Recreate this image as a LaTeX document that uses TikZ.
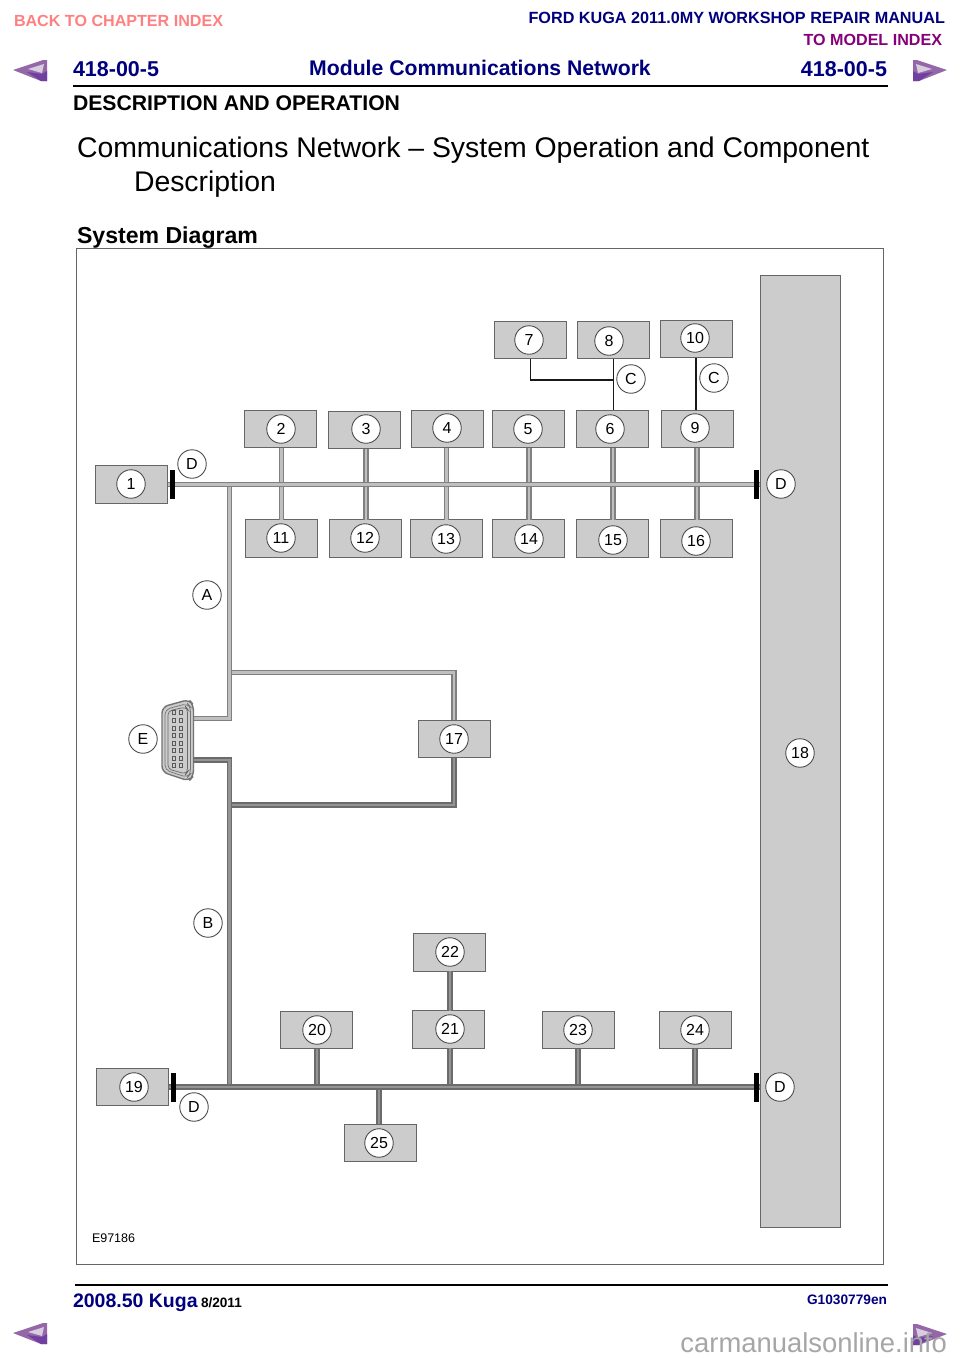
\documentclass[tikz,border=0pt]{standalone}
\usepackage{fontspec}
\setmainfont{Liberation Sans}
\definecolor{navyt}{HTML}{00007F}
\definecolor{boxg}{HTML}{CCCCCC}
\definecolor{edgeg}{HTML}{666666}
\definecolor{purp}{HTML}{9468A8}
\definecolor{purpd}{HTML}{7040A0}
\definecolor{purpl}{HTML}{D8CCE0}
\newcommand{\fs}[1]{\fontsize{#1}{#1}\selectfont}
\tikzset{
  txt/.style={inner sep=0pt,outer sep=0pt,anchor=base west},
  txtr/.style={inner sep=0pt,outer sep=0pt,anchor=base east},
  modbox/.style={draw=edgeg,fill=boxg,line width=0.9pt,minimum width=72.5pt,minimum height=37.5pt,inner sep=0pt,outer sep=0pt},
  tag/.style={circle,draw=black!70,fill=white,line width=0.9pt,minimum size=28.5pt,inner sep=0pt,font=\fs{16}},
  busl/.style={draw=black!50,line width=5.5pt,line join=miter,postaction={draw=black!25,line width=2.6pt}},
  busd/.style={draw=black!58,line width=5.5pt,line join=miter,postaction={draw=black!42,line width=2.4pt}},
  sig/.style={draw=black!90,line width=1.6pt},
  term/.style={draw=black,line width=5pt},
  pin/.style={draw=black!65,line width=0.6pt,fill=boxg},
}
\newcommand{\navarrow}[3]{%
  \fill[purp] (#1,#2) -- ({#1+#3*30},{#2-10}) -- ({#1+#3*34},{#2-10}) -- ({#1+#3*34},{#2+11}) -- ({#1+#3*28},{#2+11}) -- cycle;
  \fill[purpd] ({#1+#3*14},{#2+2}) -- ({#1+#3*29},{#2+4}) -- ({#1+#3*34},{#2+1}) -- ({#1+#3*34},{#2+11}) -- ({#1+#3*28},{#2+11}) -- cycle;
  \fill[purpl] ({#1+#3*15},{#2-1}) -- ({#1+#3*31},{#2-6}) -- ({#1+#3*29},{#2+3}) -- cycle;}
\begin{document}
\begin{tikzpicture}[x=1pt,y=-1pt]
\useasboundingbox (0,0) rectangle (960,1358);
\fill[white] (0,0) rectangle (960,1358);
% header
\node[txt,text=red!50,font=\bfseries\fs{16.1}] (back) at (14,26) {BACK TO CHAPTER INDEX};
\node[txtr,text=navyt,font=\bfseries\fs{16.2}] (ford) at (945,23) {FORD KUGA 2011.0MY WORKSHOP REPAIR MANUAL};
\node[txtr,text=purple!70!blue,font=\bfseries\fs{16.1}] (model) at (942,45) {TO MODEL INDEX};
\node[txt,text=navyt,font=\bfseries\fs{21.5}] (pl) at (73,76) {418-00-5};
\node[anchor=base,inner sep=0pt,text=navyt,font=\bfseries\fs{21.2}] (mod) at (480,75) {Module Communications Network};
\node[txtr,text=navyt,font=\bfseries\fs{21.5}] (pr) at (887,76) {418-00-5};
\coordinate (rla) at (73,85.5); \coordinate (rlb) at (888,85.5);
\draw[line width=2pt] (rla) -- (rlb);
\node[txt,font=\bfseries\fs{21.2}] (desc) at (73,110) {DESCRIPTION AND OPERATION};
\node[txt,font=\fs{28.4}] (t1) at (77,157) {Communications Network – System Operation and Component};
\node[txt,font=\fs{28.4}] (t2) at (134,191) {Description};
\node[txt,font=\bfseries\fs{23.1}] (sd) at (77,243) {System Diagram};
\navarrow{13}{70}{1}
\navarrow{947}{70}{-1}
% frame
\draw[draw=edgeg,line width=1pt] (76.5,248.5) rectangle (883.5,1264);
% big module 18
\node[modbox,minimum width=80.5pt,minimum height=952.5pt] (b18) at (800.25,751.5) {};
% modules
\foreach \n/\x/\y in {1/131.5/484.5,2/280.5/429,3/364.5/430,4/447.5/429,5/528.5/429,6/612.5/429,
  7/530.5/340,8/613.5/340,9/697.5/429,10/696.5/339,11/281.5/538.5,12/365.5/538.5,13/446.5/538.5,
  14/528.5/538.5,15/612.5/538.5,16/696.5/538.5,17/454.5/739,19/132.5/1087,20/316.5/1030,
  21/448.5/1029.5,22/449.5/952.5,23/578.5/1030,24/695.5/1030,25/380.5/1143}
  {\node[modbox] (b\n) at (\x,\y) {};}
% bus tap positions
\coordinate (u2) at (281.5,484.5); \coordinate (u3) at (366,484.5); \coordinate (u4) at (446.5,484.5);
\coordinate (u5) at (529,484.5); \coordinate (u6) at (613,484.5); \coordinate (u9) at (697,484.5);
\coordinate (uA) at (229.5,484.5); \coordinate (uAa) at (229.5,718.5); \coordinate (conA) at (192,718.5);
\coordinate (uAb) at (229.5,672.5);
\coordinate (lB) at (229.5,1087); \coordinate (lBa) at (229.5,760); \coordinate (conB) at (192,760);
\coordinate (lBb) at (229.5,805); \coordinate (l17) at (454,805); \coordinate (ua17) at (454,672.5);
\coordinate (l20) at (317,1087); \coordinate (l21) at (450,1087); \coordinate (l23) at (578,1087);
\coordinate (l24) at (695,1087); \coordinate (l25) at (379,1087);
% wires, upper network
\foreach \a/\b/\c in {u2/b2/b11,u3/b3/b12,u4/b4/b13,u5/b5/b14,u6/b6/b15,u9/b9/b16}
  {\draw[busl] (\a |- \b.south) -- (\a |- \c.north);}
\draw[busl] (uAb) -- (ua17) -- (ua17 |- b17.north);
\draw[busl] (uA) -- (uAa) -- (conA);
\draw[busl] (b1.east) -- (b1.east -| b18.west);
% wires, lower network
\draw[busd] (lBb) -- (l17) -- (l17 |- b17.south);
\draw[busd] (conB) -- (lBa) -- (lB);
\foreach \a/\b in {l20/b20,l21/b21,l23/b23,l24/b24}
  {\draw[busd] (\a) -- (\a |- \b.south);}
\draw[busd] (l21 |- b22.south) -- (l21 |- b21.north);
\draw[busd] (l25) -- (l25 |- b25.north);
\draw[busd] (b19.east) -- (b19.east -| b18.west);
% signal links
\coordinate (s7) at (530.5,380); \coordinate (s8) at (613.5,380); \coordinate (s10) at (696,380);
\draw[sig] (s7 |- b7.south) -- (s7) -- (s8);
\draw[sig] (s8 |- b8.south) -- (s8 |- b6.north);
\draw[sig] (s10 |- b10.south) -- (s10 |- b9.north);
% terminators
\coordinate (ta) at (172.5,484.5); \coordinate (tb) at (756,484.5);
\coordinate (tc) at (173.5,1087); \coordinate (td) at (756,1087);
\foreach \t in {ta,tb,tc,td}{\draw[term] ([yshift=-14.5pt]\t) -- ([yshift=14.5pt]\t);}
% connector E
\draw[draw=black!55,fill=boxg,line width=1.4pt,rounded corners=6pt]
  (162,707) -- (189,699.5) -- (193.5,705) -- (193.5,776) -- (189,781) -- (162,772) -- cycle;
\draw[draw=black!55,line width=0.7pt,rounded corners=5pt]
  (165,709.5) -- (187.5,703.5) -- (190.5,707) -- (190.5,774) -- (187.5,777.5) -- (165,770) -- cycle;
\draw[draw=black!60,line width=0.7pt,rounded corners=4pt]
  (168,711) -- (186,707) -- (187.5,709) -- (187.5,772) -- (186,774) -- (168,769) -- cycle;
\foreach \y in {712.7,720.3,728,735.5,743,750.7,758,765.3}
  {\draw[pin] (172.5,\y-2) rectangle (175.5,\y+2);
   \draw[pin] (179.2,\y-2) rectangle (182.2,\y+2);}
% number tags
\foreach \n/\x/\y in {1/131/484,2/281/429,3/366/429,4/447/428,5/528/429,6/610/429,7/529/340,8/609/341,
  9/695/428,10/695/338,11/281/538,12/365/538,13/446/539,14/529/539,15/613/540,16/696/541,17/454/739,
  18/800/753,19/134/1087,20/317/1030,21/450/1029,22/450/952,23/578/1030,24/695/1030,25/379/1143}
  {\node[tag] (n\n) at (\x,\y) {\n};}
% letter tags
\foreach \i/\l/\x/\y in {a/D/192/464,b/D/781/484,c/A/207/595,d/E/143/739,e/B/208/923,f/D/194/1107,
  g/D/780/1087,h/C/631/379,i/C/714/378}
  {\node[tag] (l\i) at (\x,\y) {\l};}
\node[txt,font=\fs{12.5}] (eref) at (92,1242) {E97186};
% footer
\coordinate (fla) at (75,1285); \coordinate (flb) at (888,1285);
\draw[line width=2pt] (fla) -- (flb);
\node[txt,text=navyt,font=\bfseries\fs{19.5}] (kuga) at (73,1307) {2008.50 Kuga};
\node[txt,font=\bfseries\fs{13.6}] (date) at (201,1307) {8/2011};
\node[txtr,text=navyt,font=\bfseries\fs{13.7}] (gref) at (887,1304) {G1030779en};
\navarrow{13}{1333}{1}
\navarrow{947}{1334}{-1}
\node[txtr,text=black!35,font=\fs{27.4}] (wm) at (947,1352) {carmanualsonline.info};
\end{tikzpicture}
\end{document}
